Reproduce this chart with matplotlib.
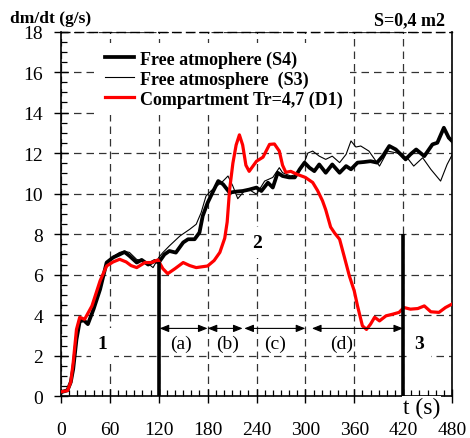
import matplotlib
matplotlib.use("Agg")
import matplotlib.pyplot as plt
from matplotlib.ticker import MultipleLocator

# ---------------- data ----------------
t_d1 = [0, 8, 12, 15, 19, 23, 29, 38, 48, 56, 64, 72, 80, 86, 93, 103, 111, 119, 125, 131,
        140, 150, 158, 166, 180, 188, 195, 201, 204, 207, 211, 215, 219, 223, 227, 231, 240,
        248, 256, 262, 268, 272, 276, 282, 290, 300, 309, 315, 321, 325, 331, 336, 342, 348,
        354, 360, 364, 370, 375, 380, 385, 391, 399, 407, 415, 421, 429, 438, 446, 454, 464,
        472, 480]
y_d1 = [0.22, 0.28, 0.7, 1.67, 3.3, 3.9, 3.8, 4.46, 5.7, 6.43, 6.63, 6.76, 6.63, 6.45, 6.35,
        6.6, 6.6, 6.73, 6.3, 6.05, 6.3, 6.6, 6.45, 6.35, 6.43, 6.7, 7.1, 7.8, 8.6, 10.2, 11.5,
        12.4, 12.9, 12.4, 11.4, 11.1, 11.6, 11.8, 12.43, 12.45, 12.1, 11.4, 11.05, 11.1, 10.95,
        10.8, 10.55, 10.15, 9.65, 9.2, 8.35, 8.05, 7.75, 6.85, 5.94, 5.2, 4.46, 3.48, 3.3, 3.56,
        3.9, 3.72, 3.97, 4.05, 4.14, 4.38, 4.3, 4.33, 4.46, 4.17, 4.14, 4.38, 4.55]

t_s4 = [0, 8, 12, 15, 19, 23, 28, 33, 40, 48, 56, 64, 72, 78, 84, 93, 99, 107, 115, 120, 127,
        133, 141, 150, 156, 164, 170, 174, 180, 186, 193, 199, 207, 215, 223, 231, 240, 246,
        254, 260, 266, 272, 280, 287, 293, 299, 305, 311, 317, 325, 333, 342, 350, 356, 364,
        372, 380, 388, 395, 403, 411, 417, 423, 429, 436, 446, 456, 462, 470, 476, 480]
y_s4 = [0.2, 0.3, 0.7, 1.35, 2.8, 3.7, 3.75, 3.56, 4.3, 5.28, 6.6, 6.85, 7.0, 7.12, 6.93, 6.6,
        6.73, 6.5, 6.68, 6.6, 7.0, 7.17, 7.09, 7.59, 7.75, 7.75, 8.08, 8.9, 9.55, 10.05, 10.62,
        10.46, 10.05, 10.1, 10.13, 10.2, 10.3, 10.13, 10.54, 10.3, 11.03, 10.87, 10.8, 10.8,
        11.2, 11.53, 11.28, 11.11, 11.44, 11.03, 11.44, 11.03, 11.36, 11.2, 11.53, 11.56, 11.6,
        11.53, 11.85, 12.35, 12.18, 11.94, 11.69, 11.94, 12.18, 11.85, 12.43, 12.51, 13.25,
        12.76, 12.6]

t_s3 = [0, 8, 12, 15, 19, 23, 28, 33, 40, 48, 56, 64, 72, 78, 84, 93, 100, 107, 113, 120, 125,
        133, 146, 158, 166, 172, 178, 184, 191, 197, 205, 211, 217, 225, 231, 240, 250, 260,
        268, 272, 282, 289, 297, 303, 309, 317, 325, 333, 342, 350, 356, 362, 368, 378, 385,
        391, 401, 413, 425, 433, 444, 454, 466, 474, 480]
y_s3 = [0.2, 0.3, 0.7, 1.4, 2.9, 3.75, 3.8, 3.6, 4.4, 5.4, 6.6, 6.9, 7.1, 7.15, 7.1, 6.75, 6.7,
        6.55, 6.35, 6.85, 7.09, 7.42, 7.91, 8.24, 8.49, 9.06, 9.88, 10.13, 10.37, 10.54, 10.87,
        10.37, 9.75, 10.13, 10.2, 9.97, 10.62, 10.8, 11.28, 11.03, 10.87, 10.95, 11.36, 12.0,
        12.1, 11.85, 11.69, 11.85, 11.53, 11.94, 12.6, 12.3, 12.35, 12.1, 11.7, 11.36, 12.1,
        12.0, 11.77, 11.36, 11.77, 11.2, 10.62, 11.44, 11.9]

series_labels = ["Free atmophere (S4)", "Free atmosphere  (S3)", "Compartment Tr=4,7 (D1)"]

# phase boundaries and annotations
boundary_t = [120, 420]
boundary_top = [6.65, 8.0]
arrow_segments = [(121, 180), (180, 223), (225, 300), (308, 420)]
arrow_y = 3.35
sub_labels = ["(a)", "(b)", "(c)", "(d)"]
sub_label_t = [147, 205, 263, 344]
phase_labels = ["1", "2", "3"]
phase_t = [51, 241, 440]
phase_y = [2.6, 7.6, 2.6]
label_y = 2.6

x_ticks = [0, 60, 120, 180, 240, 300, 360, 420, 480]
y_ticks = [0, 2, 4, 6, 8, 10, 12, 14, 16, 18]

# ---------------- figure ----------------
SERIF = ["Liberation Serif", "DejaVu Serif"]
plt.rcParams["font.family"] = SERIF

fig = plt.figure(figsize=(4.70, 4.39), dpi=100)
ax = fig.add_axes([61 / 470, 1 - 397.3 / 439, 391 / 470, (397.3 - 32.5) / 439])

ax.set_xlim(0, 480)
ax.set_ylim(0, 18)
ax.set_xticks(x_ticks)
ax.set_yticks(y_ticks)
ax.xaxis.set_minor_locator(MultipleLocator(10))
ax.yaxis.set_minor_locator(MultipleLocator(0.5))
ax.tick_params(which="major", direction="inout", length=10, width=1.0, labelsize=14)
ax.tick_params(which="minor", direction="in", length=4.5, width=0.9)
ax.tick_params(axis="x", which="major", pad=13)
ax.tick_params(axis="y", which="major", pad=8)
ax.tick_params(top=False, right=False, which="both")

for s in ["left", "bottom", "right"]:
    ax.spines[s].set_linewidth(1.2)
ax.spines["top"].set_linestyle((0, (6, 4)))
ax.spines["top"].set_linewidth(1.0)

ax.grid(True, which="major", color="#333333", linestyle=(0, (6, 4)), linewidth=0.9)

l1, = ax.plot(t_s4, y_s4, color="black", lw=2.7, zorder=4, solid_joinstyle="round")
l2, = ax.plot(t_s3, y_s3, color="black", lw=0.8, zorder=4)
l3, = ax.plot(t_d1, y_d1, color="#ff0000", lw=2.3, zorder=5, solid_joinstyle="round")

ax.vlines(boundary_t, 0, boundary_top, colors="black", lw=2.6, zorder=6)

for (a, b) in arrow_segments:
    ax.annotate("", xy=(b, arrow_y), xytext=(a, arrow_y),
                arrowprops=dict(arrowstyle="<|-|>,head_length=0.55,head_width=0.22",
                                color="black", lw=0.8, shrinkA=0, shrinkB=0),
                zorder=6)

for lab, tt in zip(sub_labels, sub_label_t):
    ax.text(tt, label_y, lab, fontsize=14, ha="center", va="center", zorder=5)

for lab, tt, yy in zip(phase_labels, phase_t, phase_y):
    ax.text(tt, yy, lab, fontsize=14, fontweight="bold", ha="center", va="center", zorder=5,
            bbox=dict(facecolor="white", edgecolor="none", pad=5))

ax.text(443, -0.55, "t (s)", fontsize=17, ha="center", va="center", zorder=7, clip_on=False,
        bbox=dict(facecolor="white", edgecolor="none", pad=0.5))

leg = ax.legend([l1, l2, l3], series_labels, loc="upper left",
                bbox_to_anchor=(98 / 470, 1 - 44 / 439), bbox_transform=fig.transFigure,
                prop=dict(family=SERIF, weight="bold", size=13),
                frameon=True, fancybox=False, framealpha=1, edgecolor="none",
                facecolor="white", handlelength=1.6, handletextpad=0.3,
                labelspacing=0.15, borderpad=0.4, borderaxespad=0)
leg.set_zorder(8)

fig.text(10 / 470, 1 - 23 / 439, "dm/dt (g/s)", fontsize=12.5, fontweight="bold",
         ha="left", va="baseline")
fig.text(445 / 470, 1 - 25 / 439, "S=0,4 m2", fontsize=13, fontweight="bold",
         ha="right", va="baseline")

fig.savefig("out.png", dpi=100)
